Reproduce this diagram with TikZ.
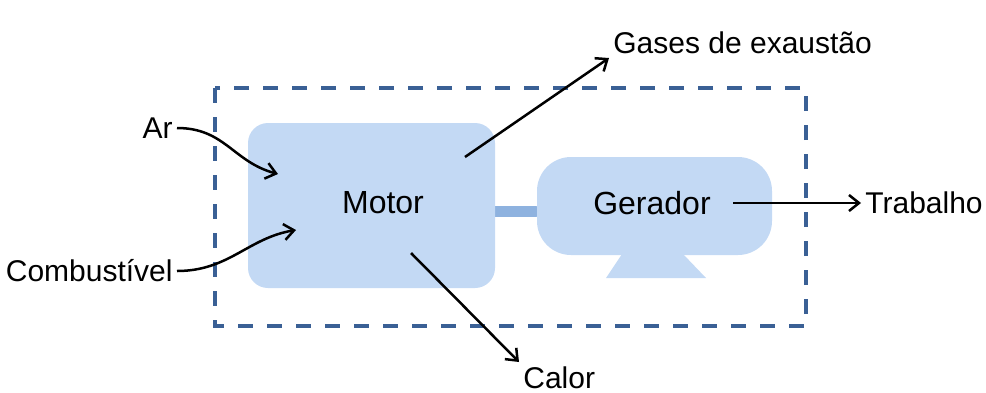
\documentclass[tikz,border=0pt]{standalone}
\usepackage{fontspec}
\setmainfont{Liberation Sans}
\usetikzlibrary{arrows.meta}
\definecolor{boxblue}{HTML}{C3D9F4}
\definecolor{shaftblue}{HTML}{8EB2DF}
\definecolor{frameblue}{HTML}{3A6095}
\begin{document}
\begin{tikzpicture}[x=0.5pt, y=-0.5pt,
    >={Straight Barb[length=5pt,width=8pt]},
    flow/.style={->, line width=1.25pt},
    part/.style={fill=boxblue, draw=none},
    big/.style={font=\fontsize{16}{19}\selectfont, inner sep=0pt},
    lbl/.style={font=\fontsize{15}{18}\selectfont, inner sep=2pt}]
    \useasboundingbox (0,0) rectangle (986,392);

    % Control volume
    \draw[frameblue, line width=2pt, dash pattern=on 7.5pt off 7pt]
        (215,88) rectangle (806,326);

    % Shaft between motor and generator
    \draw[shaftblue, line width=5.5pt, line cap=round] (492,211.5) -- (536,211.5);

    % Motor
    \node[part, rounded corners=10pt, minimum width=123.5pt, minimum height=82.5pt]
        (motor) at (371.5,205.5) {};
    \node[big] (motortxt) at (383,203) {Motor};

    % Generator with its stand
    \fill[boxblue] (622,254) -- (683,254) -- (706,278) -- (606,278) -- cycle;
    \node[part, rounded corners=17pt, minimum width=117.5pt, minimum height=49pt]
        (gerador) at (654.5,206) {};
    \node[big] (gertxt) at (652,203) {Gerador};

    % Labels
    \node[lbl, anchor=east] (ar) at (177,128) {Ar};
    \node[lbl, anchor=east] (comb) at (177,271) {Combustível};
    \node[lbl, anchor=south west] (gases) at (609,58) {Gases de exaustão};
    \node[lbl, anchor=north west] (calor) at (519,362) {Calor};
    \node[lbl, anchor=west] (trabalho) at (861,203) {Trabalho};

    % Arrow ends inside the boxes
    \coordinate (arin) at (278,174);
    \coordinate (combin) at (296,230);
    \coordinate (gasout) at (465,157);
    \coordinate (calorout) at (411,253);
    \coordinate (trabout) at (733,203);

    % Flows
    \draw[flow] (ar.east) .. controls +(48,0) and +(-45,-12) .. (arin);
    \draw[flow] (comb.east) .. controls +(52,0) and +(-48,8) .. (combin);
    \draw[flow] (gasout) -- (gases.south west);
    \draw[flow] (calorout) -- (calor.north west);
    \draw[flow] (trabout) -- (trabalho.west);
\end{tikzpicture}
\end{document}
